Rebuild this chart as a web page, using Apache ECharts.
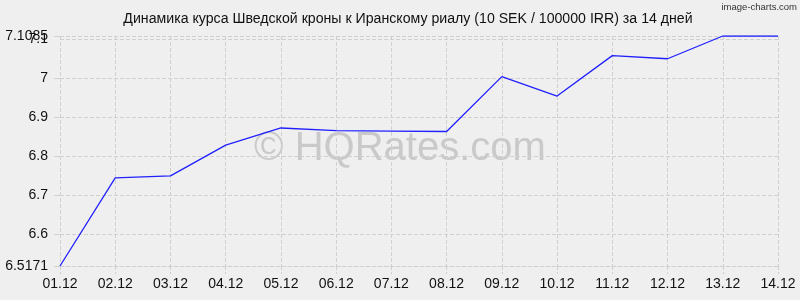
<!DOCTYPE html>
<html>
<head>
<meta charset="utf-8">
<script src="https://cdn.jsdelivr.net/npm/echarts@6/dist/echarts.min.js"></script>
<style>html,body{margin:0;padding:0;background:#efefef;}#c{width:800px;height:300px;}</style>
</head>
<body>
<div id="c"></div>
<script>
const titleText = "Динамика курса Шведской кроны к Иранскому риалу (10 SEK / 100000 IRR) за 14 дней";
const categories = ["01.12","02.12","03.12","04.12","05.12","06.12","07.12","08.12","09.12","10.12","11.12","12.12","13.12","14.12"];
const rates = [6.5171, 6.7436, 6.749, 6.828, 6.872, 6.865, 6.864, 6.863, 7.004, 6.954, 7.058, 7.05, 7.1085, 7.1085];
const yMin = 6.5171;
const yMax = 7.1085;
const overlappedTick = 7.1;

const labelFont = {color: '#111', fontFamily: 'Liberation Sans, Arial, sans-serif', fontSize: 14, margin: 12};

const chart = echarts.init(document.getElementById('c'), null, {renderer: 'canvas'});
chart.setOption({
  backgroundColor: '#efefef',
  animation: false,
  title: {
    text: titleText,
    left: 403, top: 7, textAlign: 'center',
    textStyle: {fontFamily: 'Liberation Sans, Arial, sans-serif', fontSize: 14.15, fontWeight: 'normal', color: '#111'}
  },
  graphic: [
    {type: 'text', x: 400, y: 149, silent: true, z: 0,
     style: {text: '© HQRates.com', fontFamily: 'Liberation Sans, Arial, sans-serif', fontSize: 40,
       fill: 'rgba(160,160,160,0.47)', textAlign: 'center', textVerticalAlign: 'middle'}},
    {type: 'text', x: 797, y: 7,
     style: {text: 'image-charts.com', fontFamily: 'Liberation Sans, Arial, sans-serif', fontSize: 9.5,
       fill: '#333', textAlign: 'right', textVerticalAlign: 'middle'}}
  ],
  grid: {left: 60, right: 22, top: 36, bottom: 34, containLabel: false},
  xAxis: {
    type: 'category', data: categories, boundaryGap: false,
    axisLine: {show: true, lineStyle: {color: '#d0d0d0', type: 'dashed'}},
    axisTick: {show: true, length: 8, alignWithLabel: true, lineStyle: {color: '#d0d0d0', type: 'dashed'}},
    axisLabel: {color: '#111', fontFamily: 'Liberation Sans, Arial, sans-serif', fontSize: 14, margin: 11},
    splitLine: {show: true, lineStyle: {color: '#d0d0d0', type: 'dashed'}}
  },
  yAxis: [{
    type: 'value', min: yMin, max: yMax, splitNumber: 5,
    axisLine: {show: false},
    axisTick: {show: true, length: 6, lineStyle: {color: '#d0d0d0'}},
    axisLabel: Object.assign({showMinLabel: true, showMaxLabel: true, hideOverlap: false}, labelFont),
    splitLine: {show: true, lineStyle: {color: '#d0d0d0', type: 'dashed'}}
  }, {
    type: 'value', min: yMin, max: yMax, splitNumber: 5, position: 'left', offset: 0,
    axisLine: {show: false}, axisTick: {show: false}, splitLine: {show: false},
    axisLabel: Object.assign({showMinLabel: false, showMaxLabel: false, hideOverlap: false,
      formatter: function (v) { return Math.abs(v - overlappedTick) < 1e-9 ? String(overlappedTick) : ''; }}, labelFont)
  }],
  series: [{
    type: 'line', data: rates, symbol: 'none', smooth: false,
    lineStyle: {color: '#2020ff', width: 1.3}, z: 5
  }]
});
</script>
</body>
</html>
